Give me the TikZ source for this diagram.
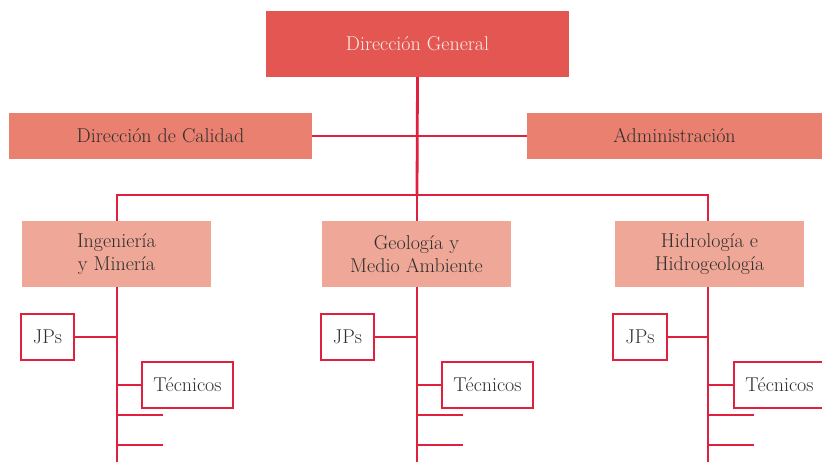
\documentclass[tikz,border=0pt]{standalone}
\definecolor{cTop}{HTML}{E35651}
\definecolor{cMid}{HTML}{E98070}
\definecolor{cLow}{HTML}{EFA797}
\definecolor{cLine}{HTML}{E0203F}
\definecolor{cTxt}{HTML}{2E2E2E}
\definecolor{cTopTxt}{HTML}{FBEDE6}
\begin{document}
\begin{tikzpicture}[x=1pt,y=-1pt,
  txt/.style={font=\fontsize{20}{23}\selectfont, align=center, inner sep=0pt},
  topbox/.style={txt, fill=cTop, text=cTopTxt, minimum width=303pt, minimum height=66pt},
  midbox/.style={txt, fill=cMid, text=cTxt, minimum height=46pt},
  lowbox/.style={txt, fill=cLow, text=cTxt, minimum width=189pt, minimum height=66pt},
  jpbox/.style={txt, fill=white, draw=cLine, line width=1.6pt, text=cTxt, minimum width=53pt, minimum height=46pt},
  tecbox/.style={txt, fill=white, draw=cLine, line width=1.6pt, text=cTxt, minimum width=91pt, minimum height=46pt},
  link/.style={draw=cLine, line width=2.8pt},
  hlink/.style={draw=cLine, line width=2.4pt}
]
\useasboundingbox (0,0) rectangle (822,462);
\coordinate (busL) at (117,195);
\coordinate (busM) at (417,195);
\coordinate (busR) at (708,195);
\node[topbox] (dg) at (417.5,44) {Dirección General};
\node[midbox, minimum width=303pt] (cal) at (160.5,136) {Dirección de Calidad};
\node[midbox, minimum width=295pt] (adm) at (674.5,136) {Administración};
\node[lowbox] (ing) at (116.5,254) {Ingeniería\\y Minería};
\node[lowbox] (geo) at (416.5,254) {Geología y\\Medio Ambiente};
\node[lowbox] (hid) at (709.5,254) {Hidrología e\\Hidrogeología};
\node[jpbox] (jp1) at (47.5,337) {JPs};
\node[jpbox] (jp2) at (347.5,337) {JPs};
\node[jpbox, minimum width=54pt] (jp3) at (640,337) {JPs};
\node[tecbox] (tc1) at (187.5,385) {Técnicos};
\node[tecbox] (tc2) at (487.5,385) {Técnicos};
\node[tecbox] (tc3) at (779.5,385) {Técnicos};
% lines
\draw[link] (dg.south) -- (busM);
\draw[hlink] (cal.east) -- (adm.west);
\draw[hlink, line cap=rect] (busL) -- (busR);
\draw[link] (busL) -- (busL |- ing.north);
\draw[link] (busM) -- (busM |- geo.north);
\draw[link] (busR) -- (busR |- hid.north);
\foreach \x/\b/\j/\t in {117/ing/jp1/tc1, 417/geo/jp2/tc2, 708/hid/jp3/tc3}{
  \coordinate (top-\b) at (\b.south -| \x,0);
  \coordinate (end-\b) at (\x,462);
  \draw[link] (top-\b) -- (end-\b);
  \draw[hlink] (\j.east) -- (\j.east -| top-\b);
  \draw[hlink] (\t.west -| top-\b) -- (\t.west);
  \draw[hlink] (\x,415) -- (\x+46,415);
  \draw[hlink] (\x,445) -- (\x+46,445);
}
\end{tikzpicture}
\end{document}
